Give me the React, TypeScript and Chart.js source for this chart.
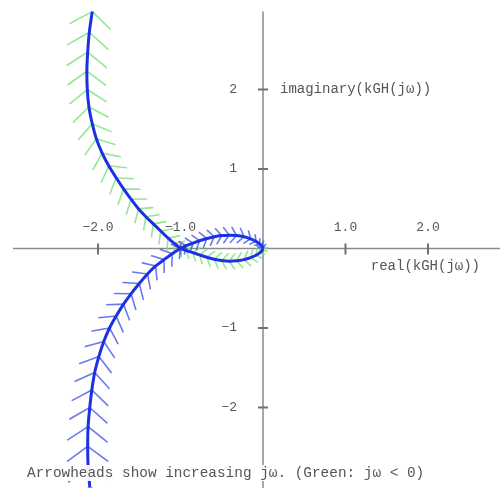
import React, { useEffect, useRef } from "react";
import { Chart, registerables } from "chart.js";

Chart.register(...registerables);

// Nyquist locus of kGH(jω), as [real, imag] pairs in travel order.
// Branch for negative frequencies: lower loop from the origin to -1, then up.
const lowerLoop: [number, number][] = [
  [0, 0], [-0.012, -0.028], [-0.04, -0.055], [-0.085, -0.085], [-0.15, -0.115],
  [-0.23, -0.14], [-0.32, -0.155], [-0.41, -0.16], [-0.5, -0.152], [-0.59, -0.135],
  [-0.68, -0.11], [-0.77, -0.08], [-0.85, -0.052], [-0.93, -0.025], [-1.0, 0],
];
const upperBranch: [number, number][] = [
  [-1.0, 0], [-1.07, 0.06], [-1.15, 0.13], [-1.24, 0.22], [-1.33, 0.31],
  [-1.42, 0.4], [-1.51, 0.5], [-1.6, 0.62], [-1.69, 0.75], [-1.78, 0.89],
  [-1.87, 1.04], [-1.95, 1.2], [-2.02, 1.38], [-2.07, 1.57], [-2.11, 1.78],
  [-2.13, 2.0], [-2.135, 2.23], [-2.125, 2.47], [-2.105, 2.72], [-2.07, 2.98],
];
// Branch for positive frequencies: from below up to -1, then the upper loop.
const lowerBranch: [number, number][] = [
  [-2.1, -3.0], [-2.12, -2.74], [-2.125, -2.49], [-2.12, -2.24], [-2.1, -2.0],
  [-2.075, -1.78], [-2.04, -1.56], [-1.99, -1.36], [-1.93, -1.17], [-1.86, -1.0],
  [-1.78, -0.85], [-1.69, -0.7], [-1.6, -0.57], [-1.5, -0.44], [-1.4, -0.32],
  [-1.3, -0.22], [-1.2, -0.14], [-1.1, -0.065], [-1.0, 0],
];
const upperLoop: [number, number][] = [
  [-1.0, 0], [-0.93, 0.035], [-0.85, 0.068], [-0.77, 0.098], [-0.68, 0.125],
  [-0.59, 0.148], [-0.5, 0.162], [-0.41, 0.168], [-0.32, 0.163], [-0.23, 0.148],
  [-0.15, 0.122], [-0.085, 0.09], [-0.04, 0.058], [-0.012, 0.03], [0, 0],
];

const xTickValues = [-2, -1, 1, 2];
const xTickLabels = ["\u22122.0", "\u22121.0", "1.0", "2.0"];
const yTickValues = [2, 1, -1, -2];
const yTickLabels = ["2", "1", "\u22121", "\u22122"];

const realLabel = "real(kGH(j\u03c9))";
const imagLabel = "imaginary(kGH(j\u03c9))";
const caption = "Arrowheads show increasing j\u03c9. (Green: j\u03c9 < 0)";

const AXIS_COLOR = "#8a8a8a";
const TEXT_COLOR = "#555555";
const CURVE_COLOR = "rgb(28, 48, 228)";
const GREEN_HEADS = "rgba(120, 225, 120, 0.8)";
const BLUE_HEADS = "rgba(70, 88, 232, 0.8)";
const MONO = '"Liberation Mono", "DejaVu Sans Mono", monospace';

const toPoints = (arr: [number, number][]) => arr.map(([x, y]) => ({ x, y }));

const HEAD_ANGLE = (54 * Math.PI) / 180;

function drawHeads(ctx: CanvasRenderingContext2D, pts: { x: number; y: number }[], color: string) {
  ctx.save();
  ctx.strokeStyle = color;
  ctx.lineWidth = 1.6;
  ctx.lineCap = "round";
  ctx.beginPath();
  const n = pts.length;
  for (let i = 0; i < n; i++) {
    const i0 = Math.max(0, i - 1);
    const i1 = Math.min(n - 1, i + 1);
    const a = pts[i0];
    const b = pts[i1];
    let dx = b.x - a.x;
    let dy = b.y - a.y;
    const len = Math.hypot(dx, dy);
    if (!len) continue;
    dx /= len;
    dy /= len;
    const step = len / (i1 - i0);
    const arm = Math.max(5, Math.min(25, step * 1.25));
    const bx = -dx;
    const by = -dy;
    const p = pts[i];
    for (const s of [1, -1]) {
      const c = Math.cos(HEAD_ANGLE);
      const sn = Math.sin(HEAD_ANGLE) * s;
      const rx = bx * c - by * sn;
      const ry = bx * sn + by * c;
      ctx.moveTo(p.x, p.y);
      ctx.lineTo(p.x + rx * arm, p.y + ry * arm);
    }
  }
  ctx.stroke();
  ctx.restore();
}

const decor = {
  id: "nyquistDecor",
  beforeDatasetsDraw(chart: any) {
    const { ctx, scales } = chart;
    const xs = scales.x;
    const ys = scales.y;
    const x0 = xs.getPixelForValue(0);
    const y0 = ys.getPixelForValue(0);
    ctx.save();
    ctx.strokeStyle = AXIS_COLOR;
    ctx.lineWidth = 1.5;
    ctx.beginPath();
    ctx.moveTo(xs.getPixelForValue(-3.03), y0);
    ctx.lineTo(xs.right, y0);
    ctx.moveTo(x0, ys.getPixelForValue(2.98));
    ctx.lineTo(x0, ys.bottom);
    ctx.stroke();

    ctx.strokeStyle = "#707070";
    ctx.lineWidth = 2;
    ctx.beginPath();
    xTickValues.forEach((v) => {
      const px = xs.getPixelForValue(v);
      ctx.moveTo(px, y0 - 5);
      ctx.lineTo(px, y0 + 6);
    });
    yTickValues.forEach((v) => {
      const py = ys.getPixelForValue(v);
      ctx.moveTo(x0 - 5, py);
      ctx.lineTo(x0 + 5, py);
    });
    ctx.stroke();

    ctx.fillStyle = TEXT_COLOR;
    ctx.font = `13px ${MONO}`;
    ctx.textBaseline = "middle";
    ctx.textAlign = "center";
    xTickValues.forEach((v, i) => {
      ctx.fillText(xTickLabels[i], xs.getPixelForValue(v), y0 - 21);
    });
    ctx.textAlign = "right";
    yTickValues.forEach((v, i) => {
      ctx.fillText(yTickLabels[i], x0 - 26, ys.getPixelForValue(v));
    });
    ctx.font = `14px ${MONO}`;
    ctx.textAlign = "left";
    ctx.fillText(imagLabel, x0 + 17, ys.getPixelForValue(2));
    ctx.textAlign = "right";
    ctx.fillText(realLabel, xs.right - 20, y0 + 18);
    ctx.restore();

    chart.data.datasets.forEach((ds: any, di: number) => {
      const meta = chart.getDatasetMeta(di);
      const pts = meta.data.map((el: any) => ({ x: el.x, y: el.y }));
      drawHeads(ctx, pts, ds.headColor);
    });
  },
  afterDatasetsDraw(chart: any) {
    const { ctx } = chart;
    ctx.save();
    ctx.font = `14.4px ${MONO}`;
    const w = ctx.measureText(caption).width;
    ctx.fillStyle = "rgba(255,255,255,0.92)";
    ctx.fillRect(24, 465, w + 8, 16);
    ctx.fillStyle = TEXT_COLOR;
    ctx.textBaseline = "middle";
    ctx.textAlign = "left";
    ctx.fillText(caption, 27, 473);
    ctx.restore();
  },
};

export default function App() {
  const canvasRef = useRef<HTMLCanvasElement>(null);

  useEffect(() => {
    const canvas = canvasRef.current;
    if (!canvas) return;
    const greenBranch = toPoints(lowerLoop.concat(upperBranch.slice(1)));
    const blueBranch = toPoints(lowerBranch.concat(upperLoop.slice(1)));
    const chart = new Chart(canvas, {
      type: "scatter",
      data: {
        datasets: [
          {
            label: "j\u03c9 < 0",
            data: greenBranch,
            showLine: true,
            borderColor: CURVE_COLOR,
            borderWidth: 3,
            pointRadius: 0,
            tension: 0.3,
            headColor: GREEN_HEADS,
          } as any,
          {
            label: "j\u03c9 > 0",
            data: blueBranch,
            showLine: true,
            borderColor: CURVE_COLOR,
            borderWidth: 3,
            pointRadius: 0,
            tension: 0.3,
            headColor: BLUE_HEADS,
          } as any,
        ],
      },
      options: {
        responsive: false,
        animation: false,
        devicePixelRatio: 1,
        events: [],
        layout: { padding: 0 },
        plugins: { legend: { display: false }, tooltip: { enabled: false } },
        scales: {
          x: { type: "linear", min: -3.188, max: 2.873, display: false },
          y: { type: "linear", min: -3.013, max: 3.126, display: false },
        },
      },
      plugins: [decor],
    });
    return () => chart.destroy();
  }, []);

  return (
    <div style={{ position: "absolute", left: 0, top: 0, width: 500, height: 488, background: "#ffffff" }}>
      <canvas ref={canvasRef} width={500} height={488} style={{ display: "block", width: 500, height: 488 }} />
    </div>
  );
}
